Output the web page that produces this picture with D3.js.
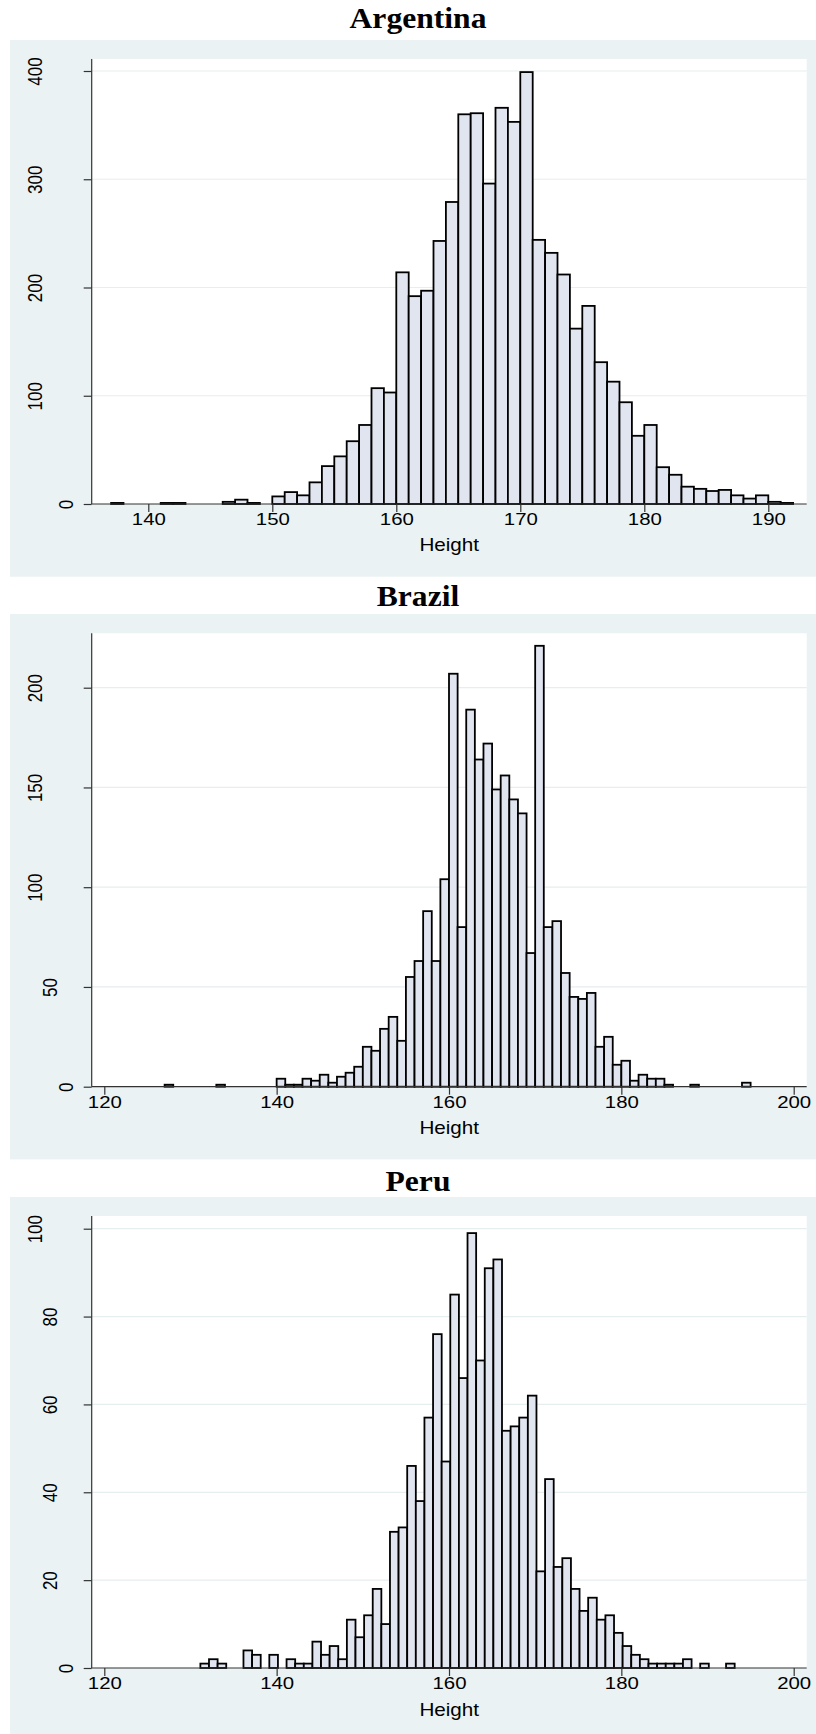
<!DOCTYPE html>
<meta charset="utf-8">
<head>
<title>Height by country</title>
<script src="https://cdn.jsdelivr.net/npm/d3@7"></script>
<style>
  body { margin: 0; background: #fff; }
  .tick text { font-family: "Liberation Sans", Arial, sans-serif; font-size: 17px; fill: #000; }
  .tick line { stroke: #333; stroke-width: 1.2; }
  .title { font-family: "Liberation Serif", "Times New Roman", serif; font-weight: bold; font-size: 29px; fill: #000; }
  .xlabel { font-family: "Liberation Sans", Arial, sans-serif; font-size: 17.5px; fill: #000; }
  .bar { fill: #e1e5f0; stroke: #000; stroke-width: 1.8; }
  .grid { stroke: #e6eef0; stroke-width: 1.2; }
  .axisline { stroke: #333; stroke-width: 1.2; }
</style>
</head>
<body>
<div id="chart"></div>
<script>
// ---- data: lower bin edges (width 1) and frequencies ----
var binWidth = 1;

var argentinaBins = [137, 141, 142, 146, 147, 148, 150, 151, 152, 153, 154, 155, 156, 157, 158, 159,
  160, 161, 162, 163, 164, 165, 166, 167, 168, 169, 170, 171, 172, 173, 174, 175, 176, 177, 178, 179,
  180, 181, 182, 183, 184, 185, 186, 187, 188, 189, 190, 191];
var argentinaCounts = [1, 1, 1, 2, 4, 1, 7, 11, 8, 20, 35, 44, 58, 73, 107, 103,
  214, 192, 197, 243, 279, 360, 361, 296, 366, 353, 399, 244, 232, 212, 162, 183, 131, 113, 94, 63,
  73, 34, 27, 16, 14, 12, 13, 8, 5, 8, 2, 1];

var brazilBins = [127, 133, 140, 141, 142, 143, 144, 145, 146, 147, 148, 149, 150, 151, 152, 153, 154,
  155, 156, 157, 158, 159, 160, 161, 162, 163, 164, 165, 166, 167, 168, 169, 170, 171, 172, 173, 174,
  175, 176, 177, 178, 179, 180, 181, 182, 183, 184, 185, 188, 194];
var brazilCounts = [1, 1, 4, 1, 1, 4, 3, 6, 2, 5, 7, 10, 20, 18, 29, 35, 23,
  55, 63, 88, 63, 104, 207, 80, 189, 164, 172, 149, 156, 144, 137, 67, 221, 80, 83, 57, 45,
  44, 47, 20, 25, 11, 13, 3, 6, 4, 4, 1, 1, 2];

var peruBins = [131.15, 132.15, 133.15, 136.15, 137.15, 139.15, 141.15, 142.15, 143.15, 144.15, 145.15,
  146.15, 147.15, 148.15, 149.15, 150.15, 151.15, 152.15, 153.15, 154.15, 155.15, 156.15, 157.15,
  158.15, 159.15, 160.15, 161.15, 162.15, 163.15, 164.15, 165.15, 166.15, 167.15, 168.15, 169.15,
  170.15, 171.15, 172.15, 173.15, 174.15, 175.15, 176.15, 177.15, 178.15, 179.15, 180.15, 181.15,
  182.15, 183.15, 184.15, 185.15, 186.15, 187.15, 189.15, 192.15];
var peruCounts = [1, 2, 1, 4, 3, 3, 2, 1, 1, 6, 3,
  5, 2, 11, 7, 12, 18, 10, 31, 32, 46, 38, 57,
  76, 47, 85, 66, 99, 70, 91, 93, 54, 55, 57, 62,
  22, 43, 23, 25, 18, 13, 16, 11, 12, 8, 5, 3,
  2, 1, 1, 1, 1, 2, 1, 1];

var argentinaYTicks = [0, 100, 200, 300, 400];
var brazilYTicks = [0, 50, 100, 150, 200];
var peruYTicks = [0, 20, 40, 60, 80, 100];
var argentinaXTicks = [140, 150, 160, 170, 180, 190];
var wideXTicks = [120, 140, 160, 180, 200];

// ---- layout of the three stacked panels ----
var width = 816, height = 1734;
var panelLeft = 10, plotLeft = 91.7, plotRight = 806.7;

var panels = [
  { title: "Argentina", bins: argentinaBins, counts: argentinaCounts,
    yTicks: argentinaYTicks, xTicks: argentinaXTicks,
    xDomain: [140, 190], xRange: [148.3, 768.3],
    grayTop: 40, grayBottom: 576.7, titleY: 28, plotTop: 59, y0: 504, yTopPx: 71, labelY: 551 },
  { title: "Brazil", bins: brazilBins, counts: brazilCounts,
    yTicks: brazilYTicks, xTicks: wideXTicks,
    xDomain: [120, 200], xRange: [104.3, 793.7],
    grayTop: 614, grayBottom: 1159.4, titleY: 606, plotTop: 633.3, y0: 1086.7, yTopPx: 687.7, labelY: 1134 },
  { title: "Peru", bins: peruBins, counts: peruCounts,
    yTicks: peruYTicks, xTicks: wideXTicks,
    xDomain: [120, 200], xRange: [104.3, 793.7],
    grayTop: 1197, grayBottom: 1734, titleY: 1191, plotTop: 1216, y0: 1668, yTopPx: 1228.7, labelY: 1716 }
];

var textStretch = 1.2;   // the original graph is stretched sideways

var svg = d3.select("#chart").append("svg")
    .attr("width", width)
    .attr("height", height);

svg.append("rect").attr("width", width).attr("height", height).attr("fill", "#fff");

panels.forEach(function(p) {
  var x = d3.scaleLinear().domain(p.xDomain).range(p.xRange);
  var yMax = p.yTicks[p.yTicks.length - 1];
  var y = d3.scaleLinear().domain([0, yMax]).range([p.y0, p.yTopPx]);

  // outer gray panel
  svg.append("rect")
      .attr("x", panelLeft).attr("y", p.grayTop)
      .attr("width", width - panelLeft).attr("height", p.grayBottom - p.grayTop)
      .attr("fill", "#eaf2f3");

  // title
  svg.append("text")
      .attr("class", "title")
      .attr("text-anchor", "middle")
      .attr("transform", "translate(418," + p.titleY + ") scale(1.09,1)")
      .text(p.title);

  // white plot region
  svg.append("rect")
      .attr("x", plotLeft).attr("y", p.plotTop)
      .attr("width", plotRight - plotLeft).attr("height", p.y0 - p.plotTop)
      .attr("fill", "#fff");

  // horizontal grid
  svg.append("g").selectAll("line")
      .data(p.yTicks.filter(function(d) { return d > 0; }))
      .enter().append("line")
      .attr("class", "grid")
      .attr("x1", plotLeft).attr("x2", plotRight)
      .attr("y1", function(d) { return y(d); })
      .attr("y2", function(d) { return y(d); });

  // bars
  var rows = p.bins.map(function(b, i) { return { lo: b, n: p.counts[i] }; });
  svg.append("g").selectAll("rect")
      .data(rows)
      .enter().append("rect")
      .attr("class", "bar")
      .attr("x", function(d) { return x(d.lo); })
      .attr("width", function(d) { return x(d.lo + binWidth) - x(d.lo); })
      .attr("y", function(d) { return y(d.n); })
      .attr("height", function(d) { return p.y0 - y(d.n); });

  // axis lines
  svg.append("line").attr("class", "axisline")
      .attr("x1", plotLeft).attr("x2", plotLeft)
      .attr("y1", p.plotTop).attr("y2", p.y0);
  svg.append("line").attr("class", "axisline")
      .attr("x1", plotLeft).attr("x2", plotRight)
      .attr("y1", p.y0).attr("y2", p.y0);

  // y axis: vertical labels, Stata style offset by label length
  var yAxis = svg.append("g")
      .attr("transform", "translate(" + plotLeft + ",0)")
      .call(d3.axisLeft(y).tickValues(p.yTicks).tickSize(8).tickSizeOuter(0).tickFormat(d3.format("d")));
  yAxis.select(".domain").remove();
  yAxis.selectAll(".tick text")
      .attr("x", null).attr("dy", null)
      .attr("text-anchor", "middle")
      .attr("transform", function(d) {
        var n = String(d).length;
        var off = 18.4 + 15.8 * (n - 1);
        return "translate(" + (-off) + ",0) scale(" + textStretch + ",1) rotate(-90)";
      });

  // x axis
  var xAxis = svg.append("g")
      .attr("transform", "translate(0," + p.y0 + ")")
      .call(d3.axisBottom(x).tickValues(p.xTicks).tickSize(8).tickSizeOuter(0).tickFormat(d3.format("d")));
  xAxis.select(".domain").remove();
  xAxis.selectAll(".tick text")
      .attr("y", 21).attr("dy", null)
      .attr("transform", "scale(" + textStretch + ",1)");

  // x label
  svg.append("text")
      .attr("class", "xlabel")
      .attr("text-anchor", "middle")
      .attr("transform", "translate(" + ((plotLeft + plotRight) / 2) + "," + p.labelY + ") scale(1.18,1)")
      .text("Height");
});
</script>
</body>
